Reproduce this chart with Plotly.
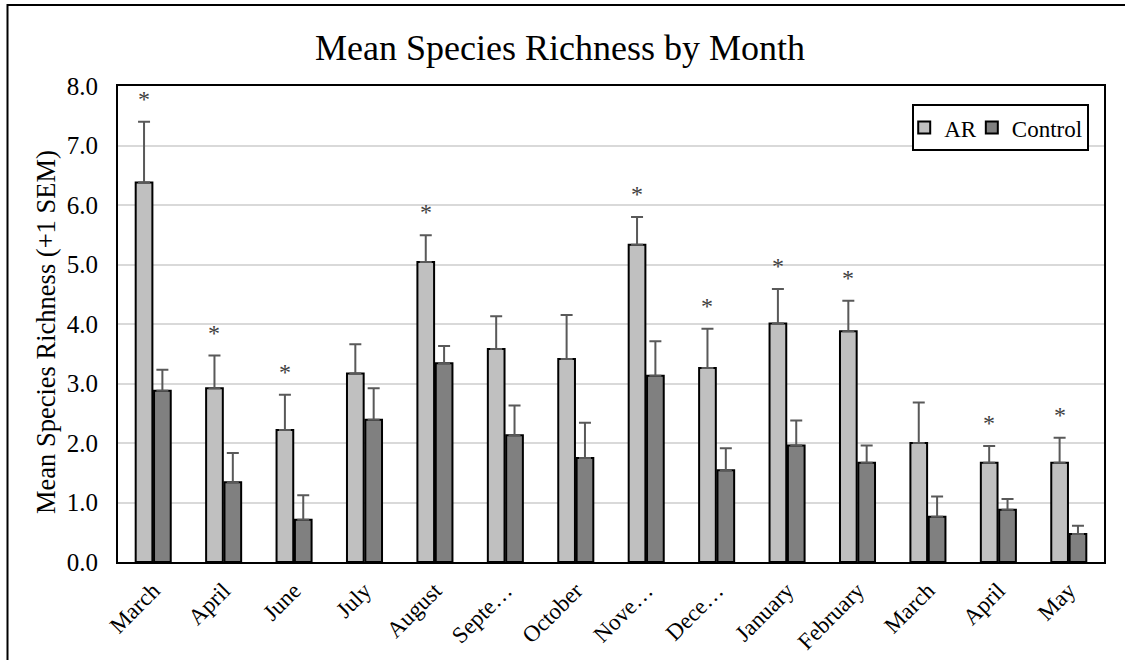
import plotly.graph_objects as go

months = ["March", "April", "June", "July", "August", "Septe…", "October",
          "Nove…", "Dece…", "January", "February", "March", "April", "May"]
ar_mean = [6.38, 2.92, 2.22, 3.17, 5.04, 3.58, 3.41, 5.33, 3.26, 4.01, 3.88, 2.00, 1.67, 1.67]
ar_sem = [1.02, 0.55, 0.59, 0.49, 0.45, 0.55, 0.74, 0.47, 0.66, 0.58, 0.51, 0.68, 0.28, 0.42]
ctrl_mean = [2.88, 1.34, 0.71, 2.39, 3.34, 2.13, 1.75, 3.13, 1.54, 1.96, 1.67, 0.76, 0.88, 0.47]
ctrl_sem = [0.35, 0.49, 0.41, 0.53, 0.29, 0.50, 0.59, 0.58, 0.37, 0.42, 0.29, 0.34, 0.18, 0.14]
significant = [True, True, True, False, True, False, False, True, True, True, True, False, True, True]

x = list(range(len(months)))
FONT = "Liberation Serif"
BARGAP = 0.479
AR_OFFSET = -(1 - BARGAP) / 4

fig = go.Figure()
fig.add_trace(go.Bar(
    x=x, y=ar_mean, name="AR",
    marker=dict(color="#c0c0c0", line=dict(color="black", width=2)),
    error_y=dict(type="data", array=ar_sem, symmetric=False,
                 arrayminus=[0] * len(ar_sem), color="#595959", thickness=2, width=6),
))
fig.add_trace(go.Bar(
    x=x, y=ctrl_mean, name="Control",
    marker=dict(color="#808080", line=dict(color="black", width=2)),
    error_y=dict(type="data", array=ctrl_sem, symmetric=False,
                 arrayminus=[0] * len(ctrl_sem), color="#595959", thickness=2, width=6),
))

annotations = []
for i, (m, s, sig) in enumerate(zip(ar_mean, ar_sem, significant)):
    if sig:
        annotations.append(dict(
            x=i + AR_OFFSET, y=m + s, xref="x", yref="y", text="*",
            showarrow=False, yanchor="middle", yshift=23,
            font=dict(family=FONT, size=24, color="#404040"),
        ))
annotations.append(dict(
    text="Mean Species Richness (+1 SEM)", textangle=-90, showarrow=False,
    xref="paper", yref="paper", x=(46 - 118) / 986, y=(562 - 332) / 476,
    xanchor="center", yanchor="middle",
    font=dict(family=FONT, size=26.5, color="black"),
))

fig.update_layout(
    width=1125, height=660,
    margin=dict(l=118, r=21, t=86, b=98, autoexpand=False),
    paper_bgcolor="white", plot_bgcolor="white",
    barmode="group", bargap=BARGAP, bargroupgap=0.09,
    font=dict(family=FONT, size=25, color="black"),
    title=dict(text="Mean Species Richness by Month", x=560 / 1125, xref="container",
               xanchor="center", y=1 - 47 / 660, yref="container", yanchor="middle",
               font=dict(family=FONT, size=36, color="black")),
    legend=dict(orientation="h", x=0.985, xanchor="right", y=0.962, yanchor="top",
                bordercolor="black", borderwidth=2, bgcolor="white",
                font=dict(family=FONT, size=23), traceorder="normal",
                itemwidth=30, tracegroupgap=0, indentation=-10),
    showlegend=True,
    annotations=annotations,
    shapes=[dict(type="rect", xref="paper", yref="paper",
                 x0=(7.5 - 118) / 986, x1=1.2, y0=-0.4, y1=(562 - 5) / 476,
                 line=dict(color="black", width=2), fillcolor="rgba(0,0,0,0)",
                 layer="below")],
)
fig.update_xaxes(
    range=[-0.5, len(months) - 0.5], tickmode="array", tickvals=x, ticktext=months,
    tickangle=-45, showline=True, linecolor="black", linewidth=2, mirror=True,
    showgrid=False, zeroline=False, ticks="", ticklabelstandoff=4, automargin=False,
    tickfont=dict(family=FONT, size=23),
)
fig.update_yaxes(
    range=[0, 8], dtick=1, tickformat=".1f", showline=True, linecolor="black",
    linewidth=2, mirror=True, showgrid=True, gridcolor="#d9d9d9", gridwidth=2,
    zeroline=False, ticks="", ticklabelstandoff=13, automargin=False,
    tickfont=dict(family=FONT, size=25),
)

fig.write_html("out.html", config={"displayModeBar": False},
               post_script="document.body.style.margin='0';")
